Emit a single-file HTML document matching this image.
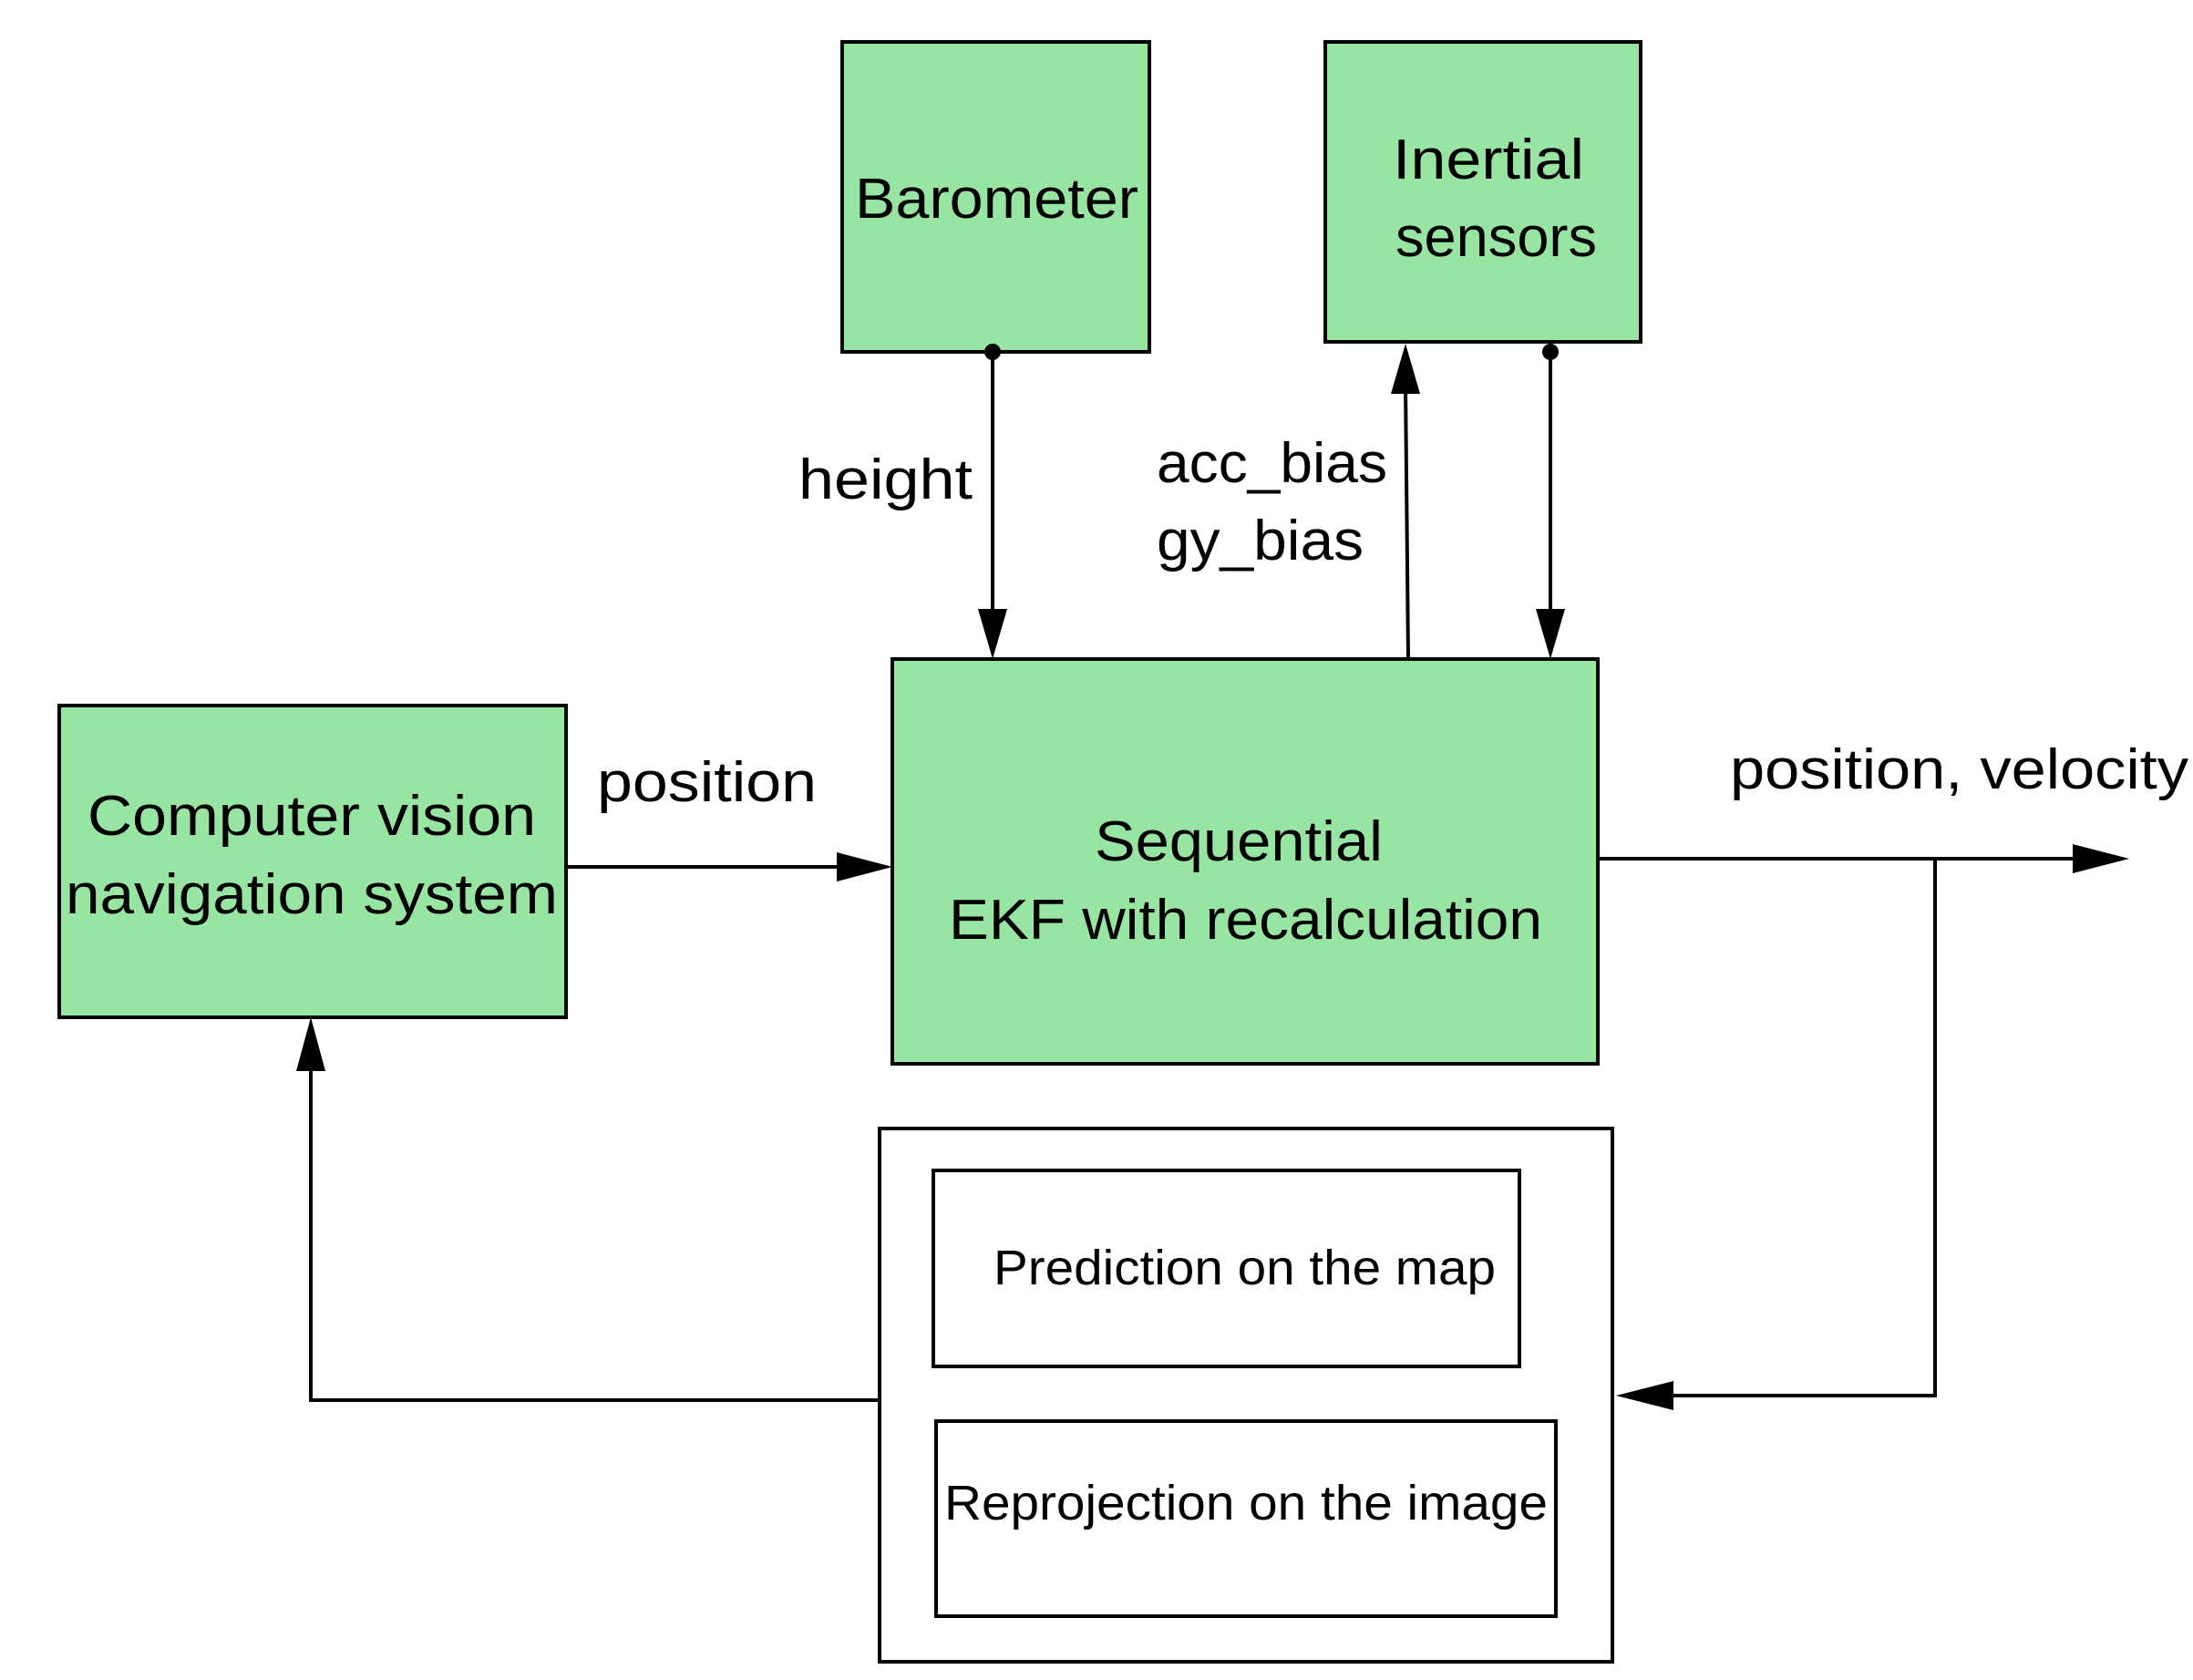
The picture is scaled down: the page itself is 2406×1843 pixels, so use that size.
<!DOCTYPE html>
<html><head><meta charset="utf-8"><style>
html,body{margin:0;padding:0;background:#fff;}
svg{display:block;}
text{font-family:"Liberation Sans",sans-serif;fill:#000;}
</style></head><body>
<svg width="2406" height="1843" viewBox="0 0 2406 1843" xmlns="http://www.w3.org/2000/svg">
<defs>
<marker id="a" markerWidth="12" markerHeight="10" refX="11" refY="5" orient="auto" markerUnits="userSpaceOnUse" viewBox="0 0 12 10">
<path d="M0,0 L12,5 L0,10 z" fill="#000"/>
</marker>
</defs>
<g stroke="#000" stroke-width="4">
<rect x="924" y="46" width="337" height="340" fill="#98e4a2"/>
<rect x="1454" y="46" width="346" height="329" fill="#98e4a2"/>
<rect x="65" y="774" width="556" height="342" fill="#98e4a2"/>
<rect x="979" y="723" width="774" height="444" fill="#98e4a2"/>
<rect x="965" y="1238" width="804" height="585" fill="#fff"/>
<rect x="1024" y="1284" width="643" height="215" fill="#fff"/>
<rect x="1027" y="1559" width="680" height="214" fill="#fff"/>
</g>
<g stroke="#000" stroke-width="4" fill="none">
<line x1="1089" y1="386" x2="1089" y2="680"/>
<line x1="1545" y1="723" x2="1542" y2="420"/>
<line x1="1701" y1="386" x2="1701" y2="680"/>
<line x1="621" y1="951" x2="935" y2="951"/>
<line x1="1753" y1="942" x2="2290" y2="942"/>
<polyline points="2123,942 2123,1531 1820,1531"/>
<polyline points="965,1536 341,1536 341,1160"/>
</g>
<g fill="#000">
<circle cx="1089" cy="386" r="9"/>
<circle cx="1701" cy="386" r="9"/>
<path d="M1073,668 L1105,668 L1089,723 z"/>
<path d="M1685,668 L1717,668 L1701,723 z"/>
<path d="M1526,432 L1558,432 L1542,377 z"/>
<path d="M918,935 L918,967 L979,951 z"/>
<path d="M2274,926 L2274,958 L2336,942 z"/>
<path d="M1836,1515 L1836,1547 L1773,1531 z"/>
<path d="M325,1175 L357,1175 L341,1116 z"/>
</g>
<g font-size="62">
<text x="938" y="239" textLength="311" lengthAdjust="spacingAndGlyphs">Barometer</text>
<text x="1528" y="196" textLength="210" lengthAdjust="spacingAndGlyphs">Inertial</text>
<text x="1531" y="281" textLength="221" lengthAdjust="spacingAndGlyphs">sensors</text>
<text x="876" y="547" textLength="191" lengthAdjust="spacingAndGlyphs">height</text>
<text x="1269" y="529" textLength="253" lengthAdjust="spacingAndGlyphs">acc_bias</text>
<text x="1269" y="614" textLength="227" lengthAdjust="spacingAndGlyphs">gy_bias</text>
<text x="655" y="879" textLength="241" lengthAdjust="spacingAndGlyphs">position</text>
<text x="1898" y="865" textLength="503" lengthAdjust="spacingAndGlyphs">position, velocity</text>
<text x="96" y="916" textLength="492" lengthAdjust="spacingAndGlyphs">Computer vision</text>
<text x="72" y="1002" textLength="540" lengthAdjust="spacingAndGlyphs">navigation system</text>
<text x="1201" y="944" textLength="316" lengthAdjust="spacingAndGlyphs">Sequential</text>
<text x="1041" y="1030" textLength="651" lengthAdjust="spacingAndGlyphs">EKF with recalculation</text>
</g>
<g font-size="54">
<text x="1090" y="1409" textLength="551" lengthAdjust="spacingAndGlyphs">Prediction on the map</text>
<text x="1036" y="1667" textLength="662" lengthAdjust="spacingAndGlyphs">Reprojection on the image</text>
</g>
</svg>
</body></html>
